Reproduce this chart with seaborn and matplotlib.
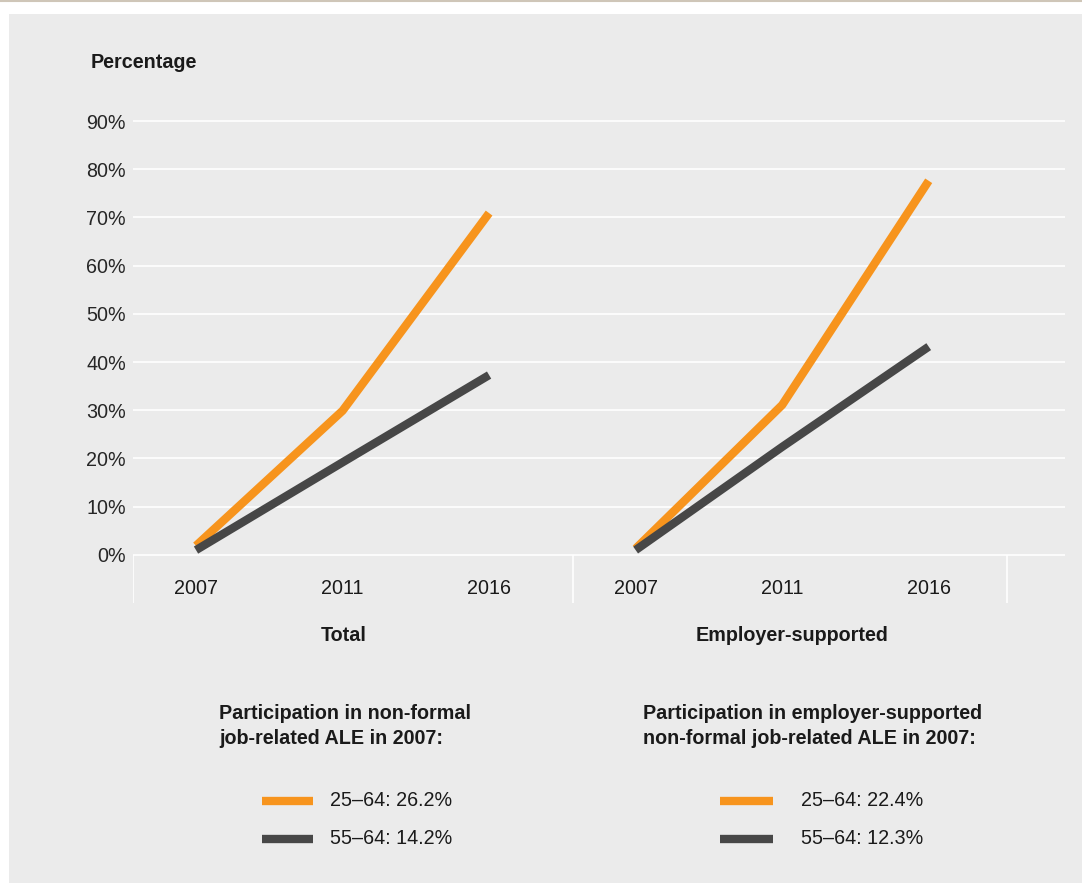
import pandas as pd
import seaborn as sns
import matplotlib.pyplot as plt
from matplotlib.lines import Line2D

# data
years = ['2007', '2011', '2016']
panels = ['Total', 'Employer-supported']
groups = ['25–64', '55–64']
total_2564 = [1.9, 29.9, 70.9]
total_5564 = [1.0, 19.2, 37.3]
emp_2564 = [1.3, 31.1, 77.6]
emp_5564 = [1.0, 22.4, 43.2]
legend_titles = ['Participation in non-formal\njob-related ALE in 2007:',
                 'Participation in employer-supported\nnon-formal job-related ALE in 2007:']
legend_labels = [['25–64: 26.2%', '55–64: 14.2%'],
                 ['25–64: 22.4%', '55–64: 12.3%']]

orange = '#F7941D'
dark = '#474747'
bg = '#EBEBEB'

rows = []
series = {('Total', '25–64'): total_2564, ('Total', '55–64'): total_5564,
          ('Employer-supported', '25–64'): emp_2564, ('Employer-supported', '55–64'): emp_5564}
for (p, g), vals in series.items():
    for i, v in enumerate(vals):
        rows.append({'panel': p, 'group': g, 'pos': panels.index(p) * 3 + i, 'value': v})
df = pd.DataFrame(rows)

sns.set_style('darkgrid', {'axes.facecolor': bg, 'grid.color': 'white'})
plt.rcParams['font.family'] = ['Liberation Sans', 'DejaVu Sans']
plt.rcParams['text.color'] = '#1a1a1a'
fs = 14.2

W, H = 1082, 883
fig = plt.figure(figsize=(W / 100, H / 100), dpi=100)
fig.patch.set_facecolor('white')

# grey panel and thin top rule
fig.add_artist(plt.Rectangle((9 / W, 0), 1 - 9 / W, 1 - 14 / H, transform=fig.transFigure,
                             facecolor=bg, edgecolor='none', zorder=0))
fig.add_artist(Line2D([0, 1], [1 - 1 / H, 1 - 1 / H], transform=fig.transFigure,
                      color='#CFC6B8', lw=1.5))

ax_l, ax_r = 133, 1065
ax_t, ax_b = 118.6, 603.1
ax = fig.add_axes([ax_l / W, 1 - ax_b / H, (ax_r - ax_l) / W, (ax_b - ax_t) / H])
ax.set_facecolor('none')

for p in panels:
    sub = df[df['panel'] == p]
    sns.lineplot(data=sub, x='pos', y='value', hue='group', palette=[orange, dark],
                 linewidth=6, legend=False, ax=ax, solid_capstyle='butt', zorder=3)

ax.set_xlim(-0.43, 5.93)
ax.set_ylim(-10, 90.5)
ax.set_yticks(range(0, 100, 10))
ax.set_yticklabels([f'{t}%' for t in range(0, 100, 10)], fontsize=fs)
ax.tick_params(axis='y', length=0, pad=5)
ax.set_xticks([])
ax.xaxis.grid(False)
ax.yaxis.grid(True, lw=1.2)
ax.set_xlabel('')
ax.set_ylabel('')
for s in ax.spines.values():
    s.set_visible(False)

# separators below the baseline
ax.vlines([-0.43, 2.573, 5.536], -10, 0, color='white', lw=1.2)

for pi, p in enumerate(panels):
    for i, y in enumerate(years):
        ax.text(pi * 3 + i, -7, y, ha='center', va='center', fontsize=fs)
ax.text(1.01, -16.8, panels[0], ha='center', va='center', fontsize=fs, fontweight='bold',
        clip_on=False)
ax.text(4.07, -16.8, panels[1], ha='center', va='center', fontsize=fs, fontweight='bold',
        clip_on=False)

fig.text(91 / W, 1 - 62 / H, 'Percentage', ha='left', va='center', fontsize=fs, fontweight='bold')

# legends
for k, (tx, sx0, sx1, lx) in enumerate([(219, 262, 313, 330), (643, 720, 773, 801)]):
    fig.text(tx / W, 1 - 726 / H, legend_titles[k], ha='left', va='center', fontsize=fs,
             fontweight='bold', linespacing=1.45)
    for j, (col, yy) in enumerate([(orange, 801), (dark, 839)]):
        fig.add_artist(Line2D([sx0 / W, sx1 / W], [1 - yy / H, 1 - yy / H],
                              transform=fig.transFigure, color=col, lw=6, solid_capstyle='butt'))
        fig.text(lx / W, 1 - yy / H, legend_labels[k][j], ha='left', va='center', fontsize=fs)

fig.savefig('out.png', dpi=100)
